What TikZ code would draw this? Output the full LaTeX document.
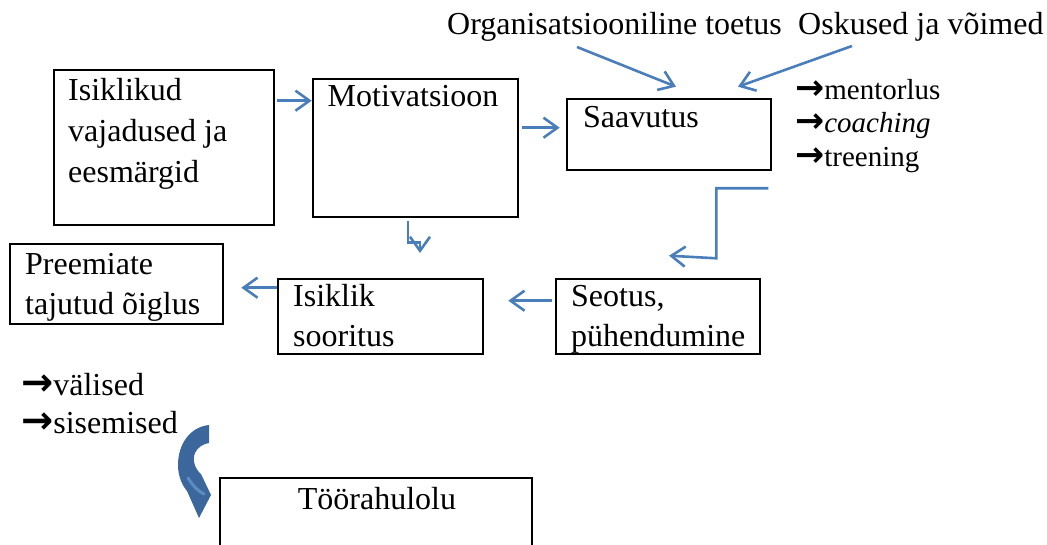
\documentclass[tikz,border=0pt]{standalone}
\usepackage{graphicx}
\usepackage{fontspec}
\setmainfont{Liberation Serif}
\newfontfamily\symf{DejaVu Sans}
\usetikzlibrary{arrows.meta,calc}
\definecolor{lnblue}{HTML}{4A7EBB}
\definecolor{cablue}{HTML}{3B679C}
\definecolor{hiblue}{HTML}{5C8CC4}
\newcommand\firstln{\rule{0pt}{30pt}}
\newcommand\rar{{\symf\bfseries\scalebox{1.2}{→}}}
\begin{document}
\begin{tikzpicture}[x=1pt,y=-1pt,
  box/.style={draw=black,line width=2.6pt,inner sep=0pt,fill=none},
  txt/.style={anchor=north west,inner sep=0pt,align=left,font=\fontsize{32}{40}\selectfont},
  one/.style={inner sep=0pt,font=\fontsize{32}{40}\selectfont},
  small/.style={anchor=north west,inner sep=0pt,align=left,font=\fontsize{29}{33.5}\selectfont},
  conn/.style={draw=lnblue,line width=2.6pt,-{Straight Barb[length=14pt,width=20pt]}}]
\useasboundingbox (0,0) rectangle (1047,545);
\clip (0,0) rectangle (1047,545);

% boxes
\node[box,minimum width=220pt,minimum height=155pt] (need) at (164,147.5) {};
\node[box,minimum width=205pt,minimum height=138pt] (mot) at (415.5,148) {};
\node[box,minimum width=204pt,minimum height=71pt] (saav) at (669,134.5) {};
\node[box,minimum width=213pt,minimum height=80pt] (pre) at (116.5,284) {};
\node[box,minimum width=205pt,minimum height=75pt] (isik) at (380.5,316.5) {};
\node[box,minimum width=204pt,minimum height=75pt] (seot) at (658,316.5) {};
\node[box,minimum width=312pt,minimum height=100pt] (too) at (376,528) {};

% box texts
\node[txt,font=\fontsize{32}{41}\selectfont] (needt) at (68,70) {\firstln Isiklikud\\vajadused ja\\eesmärgid};
\node[one,anchor=base] (mott) at (413,107) {Motivatsioon};
\node[one,anchor=base west] (saavt) at (583,128) {Saavutus};
\node[txt] (pret) at (25,244) {\firstln Preemiate\\tajutud õiglus};
\node[txt] (isikt) at (293,276) {\firstln Isiklik\\sooritus};
\node[txt] (seott) at (571,276) {\firstln Seotus,\\pühendumine};
\node[one,anchor=base] (toot) at (377,509) {Töörahulolu};

% free texts
\node[one,anchor=base west] (org) at (447,35) {Organisatsiooniline toetus};
\node[one,anchor=base west] (osk) at (798,35) {Oskused ja võimed};
\node[small] (list1) at (795,69) {\firstln\rar mentorlus\\\rar\textit{coaching}\\\rar treening};
\node[txt,font=\fontsize{32}{38}\selectfont] (list2) at (21,365) {\firstln\rar välised\\\rar sisemised};

% connectors
\draw[conn] ([shift={(2,32)}]need.north east) -- ([shift={(0,23)}]mot.north west);
\draw[conn] ([shift={(3,50)}]mot.north east) -- ([shift={(-6,30)}]saav.north west);
\draw[conn] ([shift={(130,12)}]org.base west) -- ([shift={(7,-11)}]saav.north);
\draw[conn] ([shift={(54,11)}]osk.base west) -- ([shift={(69,-11)}]saav.north);
\coordinate (motdown) at (420,253);
\draw[conn] ([shift={(-7.5,3)}]mot.south) -- ++(0,21) -- ++(12,0) -- (motdown);
\draw[conn] ([shift={(-4,17)}]saav.south east) -- ++(-52,0) -- ++(0,70) -- ([shift={(11,-22)}]seot.north);
\draw[conn] ([shift={(-3,23)}]seot.north west) -- ([shift={(24,23)}]isik.north east);
\draw[conn] ([shift={(0,10)}]isik.north west) -- ([shift={(17,45)}]pre.north east);

% curved block arrow
\fill[cablue] (209,425) .. controls (190,427) and (178,444) .. (178,465)
  .. controls (178,476) and (182,485) .. (187,491)
  -- (199,518) -- (211,495) -- (201,474)
  .. controls (195,469) and (192,460) .. (195,453)
  .. controls (198,447) and (203,444) .. (209,443) -- cycle;
\draw[hiblue,line width=3pt,line cap=round] (188,478) .. controls (193,486) and (198,491) .. (204,494);
\end{tikzpicture}
\end{document}
